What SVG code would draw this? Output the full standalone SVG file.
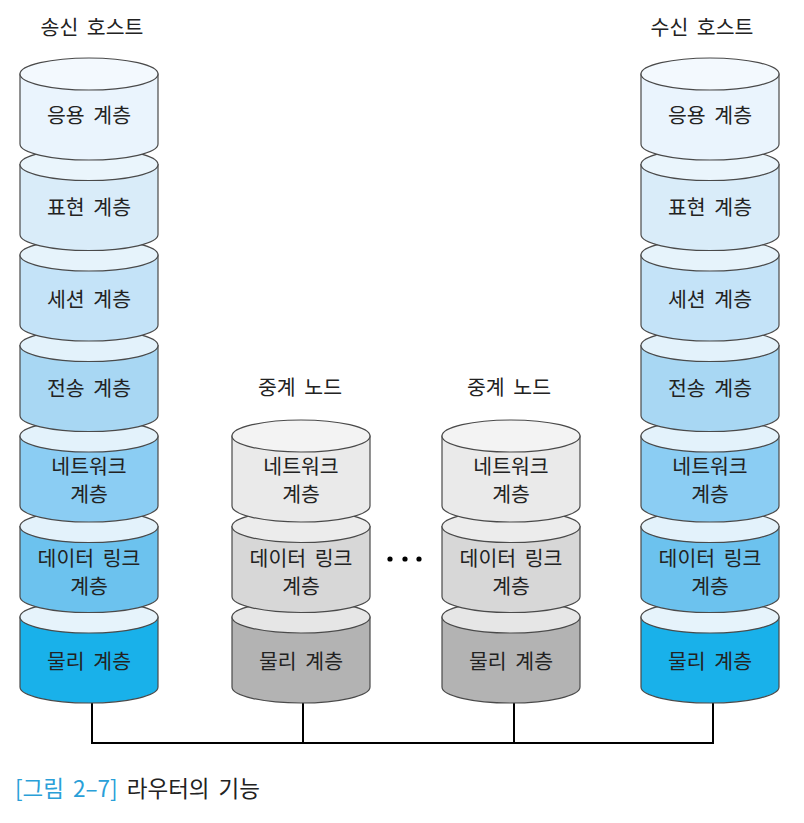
<svg xmlns="http://www.w3.org/2000/svg" width="804" height="823" viewBox="0 0 804 823">
<style>
text{font-family:"Noto Sans CJK KR","Noto Sans",sans-serif;font-size:20.5px;fill:#222;text-anchor:middle;word-spacing:4px}
.cap{text-anchor:start;font-size:22.5px;word-spacing:4px}
.body,.top{stroke:#4a4a4a;stroke-width:1.2}
.wire{fill:none;stroke:#000;stroke-width:2}
</style>
<defs>
<path id="bd" d="M-69,0 V70 A69,16 0 0 0 69,70 V0 Z"/>
</defs>
<rect width="804" height="823" fill="#fff"/>

<text x="92" y="35">송신 호스트</text>
<text x="702" y="35">수신 호스트</text>
<text x="300" y="395">중계 노드</text>
<text x="509" y="395">중계 노드</text>

<g id="connectors">
<polyline class="wire" points="92,703 92,743 713,743 713,703"/>
<line class="wire" x1="303" y1="703" x2="303" y2="743"/>
<line class="wire" x1="514" y1="703" x2="514" y2="743"/>
</g>

<g id="sender">
<g id="s7" transform="translate(89,617)"><use href="#bd" class="body" fill="#19b1ea"/><ellipse class="top" rx="69" ry="16" fill="#e6f3fb"/><text y="52">물리 계층</text></g>
<g id="s6" transform="translate(89,526.5)"><use href="#bd" class="body" fill="#6cc2ee"/><ellipse class="top" rx="69" ry="16" fill="#e3f2fb"/><text y="39">데이터 링크</text><text y="67">계층</text></g>
<g id="s5" transform="translate(89,436)"><use href="#bd" class="body" fill="#8bcdf3"/><ellipse class="top" rx="69" ry="16" fill="#e3f2fb"/><text y="38">네트워크</text><text y="66">계층</text></g>
<g id="s4" transform="translate(89,345.5)"><use href="#bd" class="body" fill="#a8d7f3"/><ellipse class="top" rx="69" ry="16" fill="#e3f2fb"/><text y="50">전송 계층</text></g>
<g id="s3" transform="translate(89,255)"><use href="#bd" class="body" fill="#c4e3f8"/><ellipse class="top" rx="69" ry="16" fill="#e6f3fb"/><text y="52">세션 계층</text></g>
<g id="s2" transform="translate(89,164.5)"><use href="#bd" class="body" fill="#d9ecf9"/><ellipse class="top" rx="69" ry="16" fill="#eaf5fc"/><text y="50">표현 계층</text></g>
<g id="s1" transform="translate(89,74)"><use href="#bd" class="body" fill="#eaf4fd"/><ellipse class="top" rx="69" ry="16" fill="#f3f9fe"/><text y="49">응용 계층</text></g>
</g>

<g id="relay1">
<g id="r1c" transform="translate(301,617)"><use href="#bd" class="body" fill="#b3b3b3"/><ellipse class="top" rx="69" ry="16" fill="#e6e6e6"/><text y="52">물리 계층</text></g>
<g id="r1b" transform="translate(301,526.5)"><use href="#bd" class="body" fill="#d7d7d7"/><ellipse class="top" rx="69" ry="16" fill="#ececec"/><text y="39">데이터 링크</text><text y="67">계층</text></g>
<g id="r1a" transform="translate(301,436)"><use href="#bd" class="body" fill="#eaeaea"/><ellipse class="top" rx="69" ry="16" fill="#f3f3f3"/><text y="38">네트워크</text><text y="66">계층</text></g>
</g>

<g id="dots" fill="#000">
<circle cx="390" cy="559" r="2.6"/><circle cx="405" cy="559" r="2.6"/><circle cx="419" cy="559" r="2.6"/>
</g>

<g id="relay2">
<g id="r2c" transform="translate(511,617)"><use href="#bd" class="body" fill="#b3b3b3"/><ellipse class="top" rx="69" ry="16" fill="#e6e6e6"/><text y="52">물리 계층</text></g>
<g id="r2b" transform="translate(511,526.5)"><use href="#bd" class="body" fill="#d7d7d7"/><ellipse class="top" rx="69" ry="16" fill="#ececec"/><text y="39">데이터 링크</text><text y="67">계층</text></g>
<g id="r2a" transform="translate(511,436)"><use href="#bd" class="body" fill="#eaeaea"/><ellipse class="top" rx="69" ry="16" fill="#f3f3f3"/><text y="38">네트워크</text><text y="66">계층</text></g>
</g>

<g id="receiver">
<g id="d7" transform="translate(710,617)"><use href="#bd" class="body" fill="#19b1ea"/><ellipse class="top" rx="69" ry="16" fill="#e6f3fb"/><text y="52">물리 계층</text></g>
<g id="d6" transform="translate(710,526.5)"><use href="#bd" class="body" fill="#6cc2ee"/><ellipse class="top" rx="69" ry="16" fill="#e3f2fb"/><text y="39">데이터 링크</text><text y="67">계층</text></g>
<g id="d5" transform="translate(710,436)"><use href="#bd" class="body" fill="#8bcdf3"/><ellipse class="top" rx="69" ry="16" fill="#e3f2fb"/><text y="38">네트워크</text><text y="66">계층</text></g>
<g id="d4" transform="translate(710,345.5)"><use href="#bd" class="body" fill="#a8d7f3"/><ellipse class="top" rx="69" ry="16" fill="#e3f2fb"/><text y="50">전송 계층</text></g>
<g id="d3" transform="translate(710,255)"><use href="#bd" class="body" fill="#c4e3f8"/><ellipse class="top" rx="69" ry="16" fill="#e6f3fb"/><text y="52">세션 계층</text></g>
<g id="d2" transform="translate(710,164.5)"><use href="#bd" class="body" fill="#d9ecf9"/><ellipse class="top" rx="69" ry="16" fill="#eaf5fc"/><text y="50">표현 계층</text></g>
<g id="d1" transform="translate(710,74)"><use href="#bd" class="body" fill="#eaf4fd"/><ellipse class="top" rx="69" ry="16" fill="#f3f9fe"/><text y="49">응용 계층</text></g>
</g>

<text class="cap" x="15" y="797"><tspan fill="#2a9fd8">[그림 2–7]</tspan> 라우터의 기능</text>
</svg>
